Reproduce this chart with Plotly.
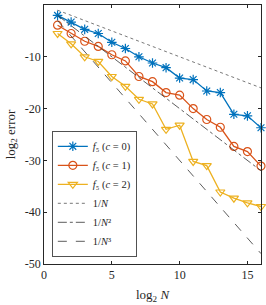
import plotly.graph_objects as go

log2N = list(range(1, 17))
err_c0 = [-2.0, -3.3, -4.7, -5.5, -7.2, -8.4, -10.0, -11.2, -12.1, -14.1, -14.4, -16.6, -16.9, -21.1, -21.4, -23.7]
err_c1 = [-3.9, -5.5, -7.0, -8.0, -9.6, -10.8, -13.8, -14.8, -16.9, -17.4, -20.0, -22.1, -23.6, -27.3, -28.3, -31.1]
err_c2 = [-5.5, -7.5, -10.0, -10.9, -13.8, -15.7, -18.2, -19.1, -24.0, -23.2, -30.2, -31.0, -36.1, -37.3, -38.2, -38.9]
ref_x = [1, 16]
ref_1 = [-1, -16]
ref_2 = [-2, -32]
ref_3 = [-3, -48]
x_ticks = [0, 5, 10, 15]
x_ticklabels = ["0", "5", "10", "15"]
y_ticks = [0, -10, -20, -30, -40, -50]
y_ticklabels = ["0", "-10", "-20", "-30", "-40", "-50"]

FONT = "Liberation Serif"
INK = "#262626"
fig = go.Figure()
series = [
    (err_c0, "<i>f</i>₅ (<i>c</i> = 0)", "#0072BD", "asterisk-open"),
    (err_c1, "<i>f</i>₅ (<i>c</i> = 1)", "#D95319", "circle-open"),
    (err_c2, "<i>f</i>₅ (<i>c</i> = 2)", "#EDB120", "triangle-down-open"),
]
for ys, name, col, sym in series:
    fig.add_trace(go.Scatter(x=log2N, y=ys, name=name, mode="lines+markers",
                             line=dict(color=col, width=1.3),
                             marker=dict(symbol=sym, size=8, color=col, line=dict(color=col, width=1.2)),
                             cliponaxis=False))
for ys, name, dash, col in [(ref_1, "1/<i>N</i>", "dot", "#555555"),
                            (ref_2, "1/<i>N</i>²", "dashdot", "#333333"),
                            (ref_3, "1/<i>N</i>³", "dash", "#333333")]:
    fig.add_trace(go.Scatter(x=ref_x, y=ys, name=name, mode="lines",
                             line=dict(color=col, width=0.8, dash=dash)))

axis_common = dict(showline=True, linecolor=INK, linewidth=0.8, mirror="allticks",
                   ticks="inside", ticklen=3, tickcolor=INK, showgrid=False, zeroline=False,
                   tickfont=dict(family=FONT, size=12, color=INK))
fig.update_xaxes(range=[0, 16], tickvals=x_ticks, ticktext=x_ticklabels,
                 title=dict(text="log<sub>2</sub> <i>N</i>", font=dict(family=FONT, size=13, color=INK), standoff=8),
                 **axis_common)
fig.update_yaxes(range=[-50, 0], tickvals=y_ticks, ticktext=y_ticklabels,
                 title=dict(text="log<sub>2</sub> error", font=dict(family=FONT, size=13, color=INK), standoff=6),
                 **axis_common)
fig.update_layout(
    width=266, height=305, margin=dict(l=44, r=5, t=5, b=41),
    plot_bgcolor="white", paper_bgcolor="white",
    showlegend=True,
    legend=dict(x=0.037, y=0.027, xanchor="left", yanchor="bottom",
                bgcolor="white", bordercolor=INK, borderwidth=0.8,
                font=dict(family=FONT, size=10.5, color=INK),
                itemwidth=30, tracegroupgap=0),
)
fig.write_html("out.html", config={"displayModeBar": False},
               post_script="document.body.style.margin='0';")
